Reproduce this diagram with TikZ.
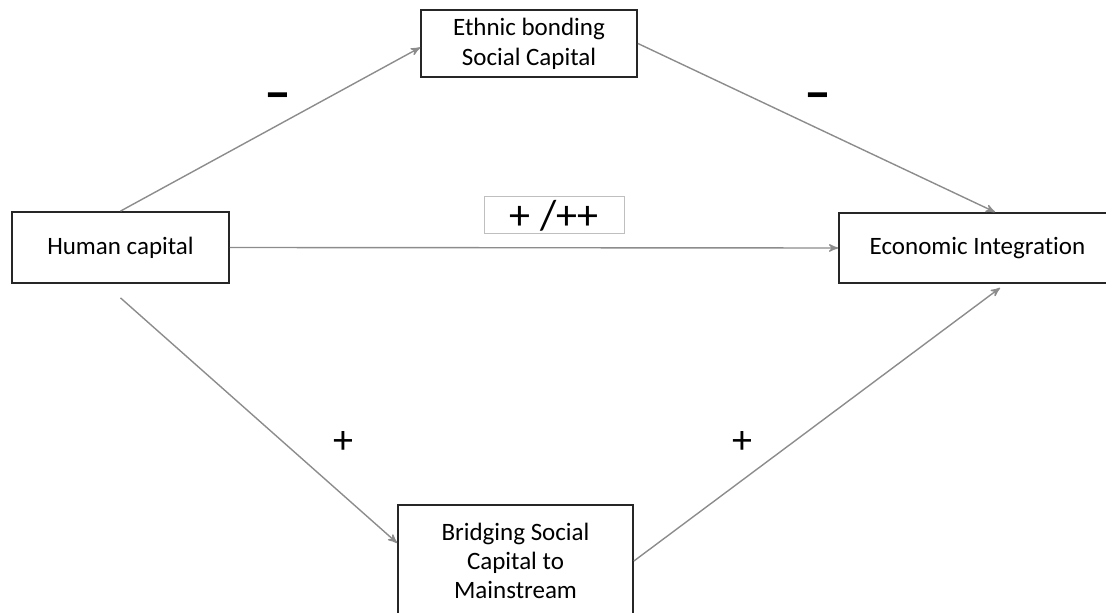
\documentclass[tikz,border=0pt]{standalone}
\usepackage{fontspec}
\setmainfont[Ligatures=NoCommon]{Carlito}
\usetikzlibrary{arrows,calc}

\begin{document}
\begin{tikzpicture}[->,>=stealth',x=0.5pt,y=-0.5pt,shorten >=0pt]
  \tikzstyle{box}=[rectangle,draw=black!85,line width=0.9pt,fill=white,align=center,
                   inner sep=0pt,font=\fontsize{12.5}{14.5}\selectfont]
  \tikzstyle{link}=[color=black!45,line width=0.7pt]
  \tikzstyle{sign}=[font=\fontsize{20}{22}\selectfont]
  \tikzstyle{minus}=[font=\fontsize{27}{30}\selectfont\bfseries]

  \useasboundingbox (0,0) rectangle (1106,613);

  \node[box,minimum width=108.5pt,minimum height=35.5pt] (hc)     at (120.5,247.5) {Human capital};
  \node[box,minimum width=108pt,minimum height=33.5pt]   (ethnic) at (529,43.5)   {Ethnic bonding\\[0.6pt]Social Capital};
  \node[box,minimum width=138.5pt,minimum height=35pt]   (econ)   at (977.5,248)  {Economic Integration};
  \node[box,minimum width=117.5pt,minimum height=56pt]   (bridge) at (515.5,561)  {Bridging Social\\Capital to\\Mainstream};

  \path[link]
(hc.north)                 edge ([yshift=-2pt]ethnic.west)
(ethnic.east)              edge ([xshift=8.75pt]econ.north)
(hc.east)                  edge (econ.west)
([yshift=-7pt]hc.south)    edge ([yshift=9pt]bridge.west)
(bridge.east)              edge ([xshift=11.25pt,yshift=-2pt]econ.south);

  % signs on the paths
  \node[minus] (m1) at (278,102)  {–};
  \node[minus] (m2) at (818,102)  {–};
  \node[sign] (p1) at (343,443) {+};
  \node[sign] (p2) at (742,443) {+};
  \node[sign,font=\fontsize{21}{22}\selectfont,draw=black!25,line width=0.5pt,
        minimum width=70pt,minimum height=18.5pt,inner sep=0pt] (direct) at (554,215.5) {+ /++};
\end{tikzpicture}
\end{document}
